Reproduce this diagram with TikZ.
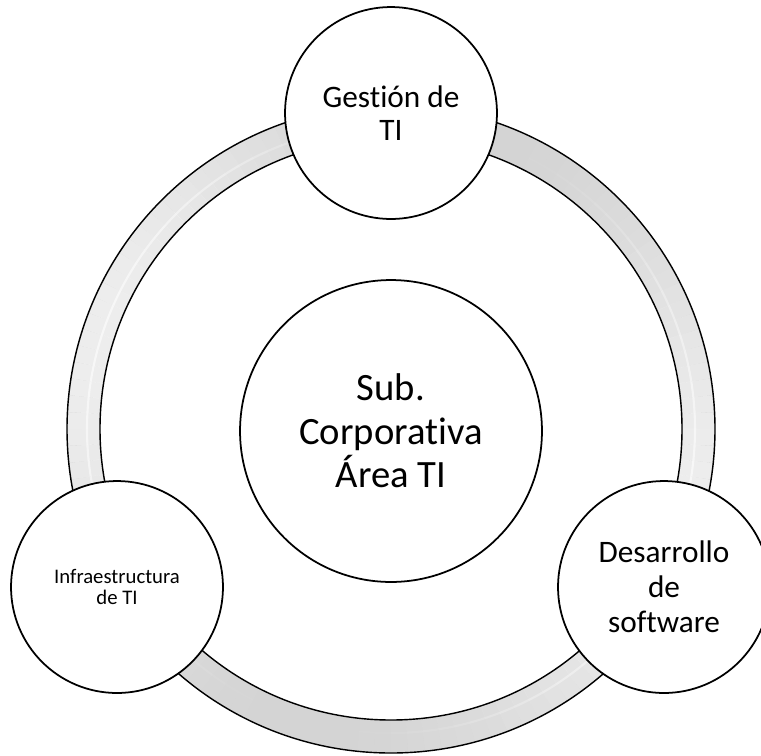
\documentclass[tikz,border=0pt]{standalone}
\usepackage{fontspec}
\setmainfont{Carlito}[Ligatures=NoCommon]

\tikzset{
  bubble/.style={circle,draw,line width=1pt,fill=white,minimum size=4.24cm,inner sep=0pt,align=center},
  hub/.style={bubble,minimum size=6.04cm},
}

\begin{document}
\begin{tikzpicture}[x=0.02cm,y=-0.02cm]
  \useasboundingbox (0,0) rectangle (761,755);
  \coordinate (c) at (391,429);
  % ring with light sides
  \fill[gray!34,even odd rule] (c) circle[radius=324] (c) circle[radius=291];
  \foreach \a in {0,3,...,357}{
    \pgfmathsetmacro\w{0.6*cos(\a-15)^2}
    \draw[white,opacity=\w,line width=0.62cm] (c) ++(\a:307.5) arc[start angle=\a,end angle=\a+3,radius=307.5];
    \draw[white,opacity=\w,line width=1.2pt] (c) ++(\a:304) arc[start angle=\a,end angle=\a+3,radius=304];
  }
  \draw[line width=0.8pt] (c) circle[radius=324] (c) circle[radius=291];

  \node[hub,font=\fontsize{22}{24.7}\selectfont] (centro) at (391,431) {Sub.\\Corporativa\\Área TI};
  \node[bubble,font=\fontsize{17.8}{18.8}\selectfont] (gestion) at (391,113) {Gestión de\\TI};
  \node[bubble,font=\fontsize{11.8}{12.3}\selectfont] (infra) at (117,587) {Infraestructura\\de TI};
  \node[bubble,font=\fontsize{17.8}{19.8}\selectfont] (desarrollo) at (664,587) {Desarrollo\\de\\software};
\end{tikzpicture}
\end{document}
